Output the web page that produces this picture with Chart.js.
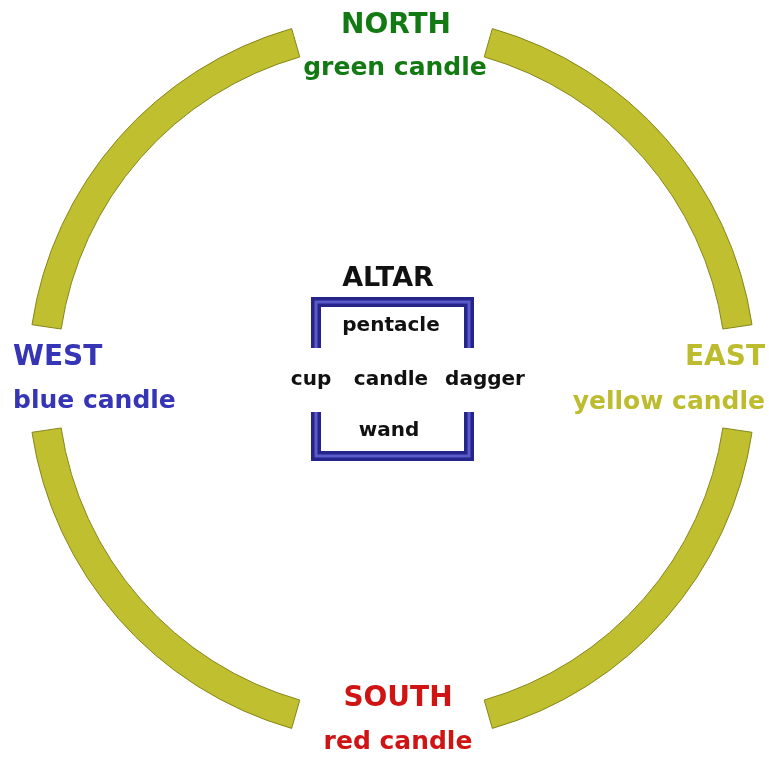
<!DOCTYPE html>
<html>
<head>
<meta charset="utf-8">
<script src="https://cdn.jsdelivr.net/npm/chart.js@4/dist/chart.umd.min.js"></script>
<style>
  html, body { margin: 0; padding: 0; background: #ffffff; }
  #wrap { width: 769px; height: 757px; }
</style>
</head>
<body>
<div id="wrap"><canvas id="c" width="769" height="757"></canvas></div>
<script>
// ---- data ----
const segmentNames = ['north gap', 'north-east arc', 'east gap', 'south-east arc', 'south gap', 'south-west arc', 'west gap', 'north-west arc'];
const segmentDegrees = [32, 65.5, 17, 65.5, 32, 65.5, 17, 65.5];
const segmentIsArc = [false, true, false, true, false, true, false, true];
const directions = ['NORTH', 'EAST', 'SOUTH', 'WEST'];
const candles = ['green candle', 'yellow candle', 'red candle', 'blue candle'];
const directionColors = ['#137a13', '#bcbc2e', '#d01414', '#3535b5'];
const altarTitle = 'ALTAR';
const altarItems = ['pentacle', 'cup', 'candle', 'dagger', 'wand'];

const ringColor = '#bfbf2f';
const ringEdge = '#86861e';

const labelsPlugin = {
  id: 'circleLabels',
  afterDraw(chart) {
    const ctx = chart.ctx;
    ctx.save();
    const caps = 'bold 28px "DejaVu Sans", sans-serif';
    const big = 'bold 25px "DejaVu Sans", sans-serif';
    const small = 'bold 20px "DejaVu Sans", sans-serif';
    ctx.textBaseline = 'middle';

    const put = (txt, x, y, align, color, font) => {
      ctx.font = font; ctx.fillStyle = color; ctx.textAlign = align;
      ctx.fillText(txt, x, y);
    };
    put(directions[0], 396, 26, 'center', directionColors[0], caps);
    put(candles[0], 395, 68, 'center', directionColors[0], big);
    put(directions[1], 765, 358, 'right', directionColors[1], caps);
    put(candles[1], 765, 402, 'right', directionColors[1], big);
    put(directions[2], 398, 699, 'center', directionColors[2], caps);
    put(candles[2], 398, 742, 'center', directionColors[2], big);
    put(directions[3], 13, 358, 'left', directionColors[3], caps);
    put(candles[3], 13, 401, 'left', directionColors[3], big);

    // altar box (brackets)
    const bracket = (pts) => {
      ctx.lineJoin = 'miter'; ctx.lineCap = 'butt';
      ctx.strokeStyle = '#24248a'; ctx.lineWidth = 10;
      ctx.beginPath(); ctx.moveTo(pts[0][0], pts[0][1]);
      for (let i = 1; i < pts.length; i++) ctx.lineTo(pts[i][0], pts[i][1]);
      ctx.stroke();
      ctx.strokeStyle = '#5a5ac8'; ctx.lineWidth = 3;
      ctx.stroke();
    };
    bracket([[316, 348], [316, 302], [469, 302], [469, 348]]);
    bracket([[316, 412], [316, 456], [469, 456], [469, 412]]);

    put(altarTitle, 388, 279, 'center', '#111111', 'bold 27px "DejaVu Sans", sans-serif');
    put(altarItems[0], 391, 326, 'center', '#111111', small);
    put(altarItems[1], 311, 380, 'center', '#111111', small);
    put(altarItems[2], 391, 380, 'center', '#111111', small);
    put(altarItems[3], 485, 380, 'center', '#111111', small);
    put(altarItems[4], 389, 431, 'center', '#111111', small);
    ctx.restore();
  }
};

new Chart(document.getElementById('c'), {
  type: 'doughnut',
  data: {
    labels: segmentNames,
    datasets: [{
      data: segmentDegrees,
      backgroundColor: segmentIsArc.map(a => a ? ringColor : 'rgba(0,0,0,0)'),
      borderColor: segmentIsArc.map(a => a ? ringEdge : 'rgba(0,0,0,0)'),
      borderWidth: 1,
      hoverOffset: 0,
      radius: 364,
      cutout: 346
    }]
  },
  options: {
    responsive: false,
    animation: false,
    events: [],
    rotation: -16,
    radius: 364,
    cutout: 346,
    layout: { padding: { left: 15, right: 0, top: 0, bottom: 0 } },
    plugins: { legend: { display: false }, tooltip: { enabled: false } }
  },
  plugins: [labelsPlugin]
});
</script>
</body>
</html>
